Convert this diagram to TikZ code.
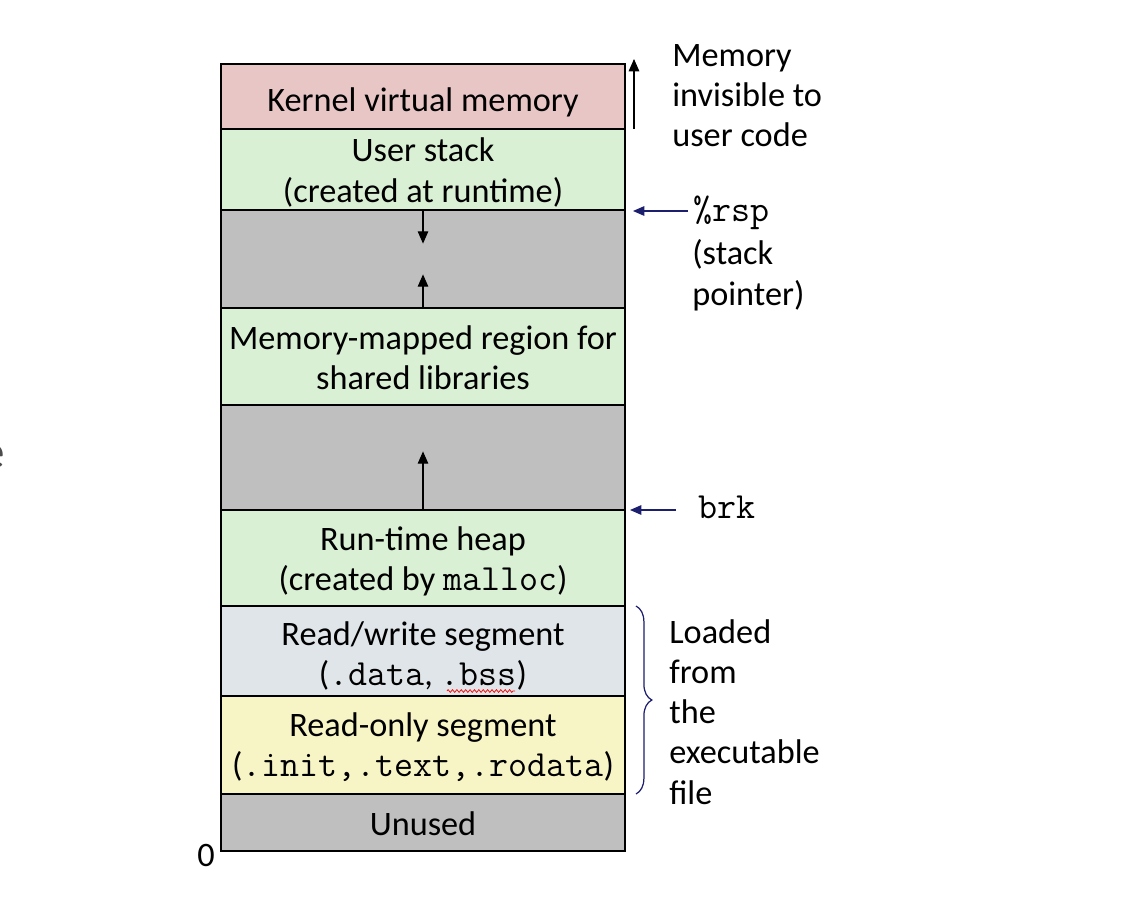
\documentclass[tikz,border=0pt]{standalone}
\usepackage{fontspec}
\setmainfont{Carlito}
\usetikzlibrary{arrows.meta,decorations.pathreplacing,decorations.pathmorphing}
\definecolor{kern}{RGB}{232,198,198}
\definecolor{grn}{RGB}{217,240,212}
\definecolor{gry}{RGB}{191,191,191}
\definecolor{rwc}{RGB}{224,229,233}
\definecolor{roc}{RGB}{247,245,198}
\definecolor{nav}{RGB}{28,30,110}
\newcommand\mycode[1]{{\fontsize{21}{22.8}\selectfont\ttfamily #1}}
\begin{document}
\begin{tikzpicture}[x=0.02cm,y=-0.02cm,
  seg/.style={draw=black, line width=0.7pt, minimum width=8.08cm, inner sep=0pt},
  txt/.style={inner sep=0pt, align=center, font=\fontsize{19.5}{22.8}\selectfont},
  lbl/.style={inner sep=0pt, align=left, anchor=base west, font=\fontsize{19.5}{22.8}\selectfont},
  growarr/.style={draw=black, line width=0.6pt, -{Triangle[length=7pt,width=6pt]}},
  ptr/.style={draw=nav, line width=0.6pt, -{Triangle[length=6.5pt,width=5.5pt]}}]
\useasboundingbox (0,0) rectangle (1146,902);
% segments
\node[seg, fill=kern, minimum height=1.30cm] (kernel) at (423,96.5) {};
\node[seg, fill=grn, minimum height=1.62cm] (stack) at (423,169.5) {};
\node[seg, fill=gry, minimum height=1.96cm] (gap1) at (423,259) {};
\node[seg, fill=grn, minimum height=1.94cm] (mmap) at (423,356.5) {};
\node[seg, fill=gry, minimum height=2.10cm] (gap2) at (423,457.5) {};
\node[seg, fill=grn, minimum height=1.92cm] (heap) at (423,558) {};
\node[seg, fill=rwc, minimum height=1.80cm] (rw) at (423,651) {};
\node[seg, fill=roc, minimum height=1.96cm] (ro) at (423,745) {};
\node[seg, fill=gry, minimum height=1.14cm] (unused) at (423,822.5) {};
% segment texts
\node[txt] (kernelt) at ([yshift=-3.2pt]kernel.center) {Kernel virtual memory};
\node[txt] (stackt) at ([yshift=-1.7pt]stack.center) {User stack\\(created at runtime)};
\node[txt] (mmapt) at ([yshift=-0.6pt]mmap.center) {Memory-mapped region for\\shared libraries};
\node[txt] (heapt) at ([yshift=-1.7pt]heap.center) {Run-time heap\\(created by \mycode{malloc})};
\node[txt] (rwt) at ([yshift=-2.8pt]rw.center) {Read/write segment\\(\mycode{.data}, \mycode{.bss})};
\node[txt] (rot) at ([yshift=-1.4pt]ro.center) {Read-only segment\\(\mycode{.init,.text,.rodata})};
\node[txt] (unusedt) at ([yshift=-0.6pt]unused.center) {Unused};
% spell-check squiggle under bss
\draw[red, line width=0.4pt, decorate, decoration={zigzag, amplitude=0.8pt, segment length=2.5pt}] (447,691) -- (515,691);
% growth arrows
\draw[growarr] (stack.south) -- ++(0,33);
\draw[growarr] (mmap.north) -- ++(0,-33);
\draw[growarr] (heap.north) -- ++(0,-58);
% kernel arrow
\coordinate (kbot) at (634,129);
\coordinate (ktop) at (634,59);
\draw[growarr] (kbot) -- (ktop);
% labels (base = last line)
\node[lbl] (invis) at (672,147) {Memory\\invisible to\\user code};
\node[lbl] (rsp) at (693,222) {\mycode{\%rsp}};
\node[lbl] (sp) at (692,305) {(stack\\pointer)};
\node[lbl] (brk) at (698,518) {\mycode{brk}};
\node[lbl] (loaded) at (669,804) {Loaded\\from\\the\\executable\\file};
\coordinate (rspstart) at (688,211);
\coordinate (rspend) at (633,211);
\coordinate (brkstart) at (676,510);
\coordinate (brkend) at (630,510);
\draw[ptr] (rspstart) -- (rspend);
\draw[ptr] (brkstart) -- (brkend);
% brace
\draw[nav, line width=0.7pt, decorate, decoration={brace, amplitude=9pt}] (636,606) -- (636,794);
% zero
\node[inner sep=0pt, anchor=base, font=\fontsize{19.5}{22.8}\selectfont] (zero) at (206,866) {0};
% cropped letter at left edge
\node[inner sep=0pt, anchor=base east, text=black!70, font=\fontsize{28}{34}\selectfont] (edge) at (5,468) {e};
\end{tikzpicture}
\end{document}
